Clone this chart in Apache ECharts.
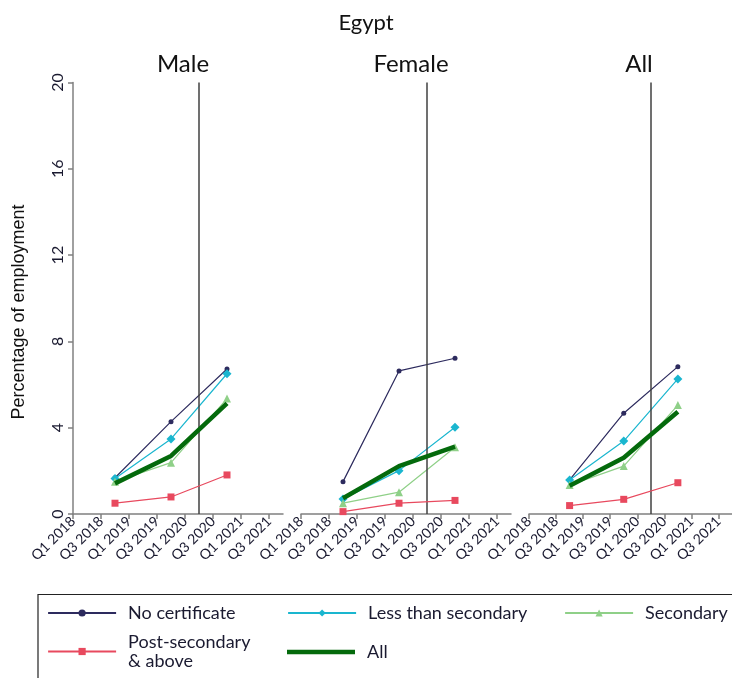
<!DOCTYPE html>
<html>
<head>
<meta charset="utf-8">
<script src="https://cdn.jsdelivr.net/npm/echarts@6/dist/echarts.min.js"></script>
<style>html,body{margin:0;padding:0;background:#fff}#c{width:732px;height:678px}</style>
</head>
<body>
<div id="c"></div>
<script>
// ---- data ----
const quarters = ['Q1 2018','Q2 2018','Q3 2018','Q4 2018','Q1 2019','Q2 2019','Q3 2019','Q4 2019',
                  'Q1 2020','Q2 2020','Q3 2020','Q4 2020','Q1 2021','Q2 2021','Q3 2021','Q4 2021'];
const obsQuarters = ['Q4 2018','Q4 2019','Q4 2020'];
const markQuarter = 'Q2 2020';
const panels = ['Male','Female','All'];
const seriesNames = ['No certificate','Less than secondary','Secondary','Post-secondary & above','All'];
const yTicks = [0,4,8,12,16,20];

const maleNoCert    = [1.68, 4.28, 6.72];
const maleLess      = [1.65, 3.48, 6.50];
const maleSecondary = [1.50, 2.38, 5.35];
const malePost      = [0.50, 0.79, 1.81];
const maleAll       = [1.42, 2.69, 5.13];

const femaleNoCert    = [1.50, 6.63, 7.22];
const femaleLess      = [0.70, 2.01, 4.02];
const femaleSecondary = [0.50, 1.01, 3.09];
const femalePost      = [0.11, 0.50, 0.63];
const femaleAll       = [0.73, 2.22, 3.12];

const allNoCert    = [1.58, 4.67, 6.83];
const allLess      = [1.58, 3.38, 6.26];
const allSecondary = [1.34, 2.22, 5.05];
const allPost      = [0.39, 0.68, 1.45];
const allAll       = [1.31, 2.61, 4.74];

const panelData = [
  [maleNoCert, maleLess, maleSecondary, malePost, maleAll],
  [femaleNoCert, femaleLess, femaleSecondary, femalePost, femaleAll],
  [allNoCert, allLess, allSecondary, allPost, allAll]
];

// ---- styles ----
const styles = [
  {color:'#2d2b5e', width:1.2, symbol:'circle',   size:5},
  {color:'#1ab6cf', width:1.2, symbol:'diamond',  size:9},
  {color:'#8fd088', width:1.2, symbol:'triangle', size:8},
  {color:'#e8495e', width:1.2, symbol:'rect',     size:7},
  {color:'#046a0c', width:4.5, symbol:'none',     size:0}
];
const gridLefts = [73, 301, 529];
const gridW = 210, gridTop = 82.5, gridH = 431.5;
const font = 'Lato, "Open Sans", sans-serif';

const grid = [], xAxis = [], yAxis = [], series = [], title = [];
title.push({text:'Egypt', left:'center', top:7, textStyle:{fontFamily:font, fontSize:22, fontWeight:'normal', color:'#111'}});
panels.forEach((p, i) => {
  grid.push({left:gridLefts[i], top:gridTop, width:gridW, height:gridH, containLabel:false});
  title.push({text:p, left:gridLefts[i] + gridW/2, top:47, textAlign:'center',
    textStyle:{fontFamily:font, fontSize:24, fontWeight:'normal', color:'#111'}});
  xAxis.push({type:'category', gridIndex:i, data:quarters, boundaryGap:false,
    axisLine:{lineStyle:{color:'#808080', width:1.5}},
    axisTick:{show:true, interval:1, length:5, lineStyle:{color:'#808080', width:1.5}},
    axisLabel:{interval:1, rotate:45, fontFamily:font, fontSize:14, color:'#1a1a30', margin:5},
    splitLine:{show:false}});
  yAxis.push({type:'value', gridIndex:i, min:yTicks[0], max:yTicks[yTicks.length-1], interval:4,
    axisLine:{show:i===0, lineStyle:{color:'#808080', width:1.5}},
    axisTick:{show:i===0, length:5, lineStyle:{color:'#808080', width:1.5}},
    axisLabel:{show:i===0, rotate:90, fontFamily:font, fontSize:16, color:'#1a1a30', margin:7},
    splitLine:{show:false}});
  seriesNames.forEach((n, k) => {
    const st = styles[k];
    const s = {
      name:n, type:'line', xAxisIndex:i, yAxisIndex:i,
      data: obsQuarters.map((q, j) => [q, panelData[i][k][j]]),
      symbol:st.symbol, symbolSize:st.size, showSymbol: st.symbol !== 'none', showAllSymbol:true,
      lineStyle:{color:st.color, width:st.width},
      itemStyle:{color:st.color},
      z: 2 + k, animation:false
    };
    if (k === 0) {
      s.markLine = {silent:true, symbol:'none', label:{show:false},
        lineStyle:{color:'#404040', width:1.5, type:'solid'},
        data:[{xAxis: markQuarter}]};
    }
    series.push(s);
  });
});

const legendPos = [
  {name:seriesNames[0], left:47,  top:603.5},
  {name:seriesNames[3], left:47,  top:632.5},
  {name:seriesNames[1], left:287, top:603.5},
  {name:seriesNames[4], left:287, top:642.5},
  {name:seriesNames[2], left:564, top:603.5}
];
const legend = legendPos.map(l => {
  const isAll = l.name === 'All';
  return {
    data:[isAll ? {name:l.name, icon:'rect'} : l.name],
    left:l.left, top:l.top, padding:0, itemWidth:68, itemHeight: isAll ? 4.5 : 9, itemGap:0,
    selectedMode:false,
    lineStyle:{width:2.2},
    formatter: nm => nm.replace(' & ', '\n& '),
    textStyle:{fontFamily:font, fontSize:18, color:'#1a1a30', lineHeight:19, padding:[0,0,0,7]}
  };
});

const chart = echarts.init(document.getElementById('c'), null, {renderer:'canvas'});
chart.setOption({
  animation:false,
  title, grid, xAxis, yAxis, series, legend,
  graphic:[
    {type:'rect', shape:{x:38, y:594.5, width:720, height:100}, style:{fill:'none', stroke:'#222', lineWidth:1.2}},
    {type:'text', x:19, y:312, rotation:Math.PI/2,
      style:{text:'Percentage of employment', font:'18px "Liberation Sans", Arial, sans-serif', fill:'#111', align:'center', verticalAlign:'middle'}}
  ]
});
</script>
</body>
</html>
